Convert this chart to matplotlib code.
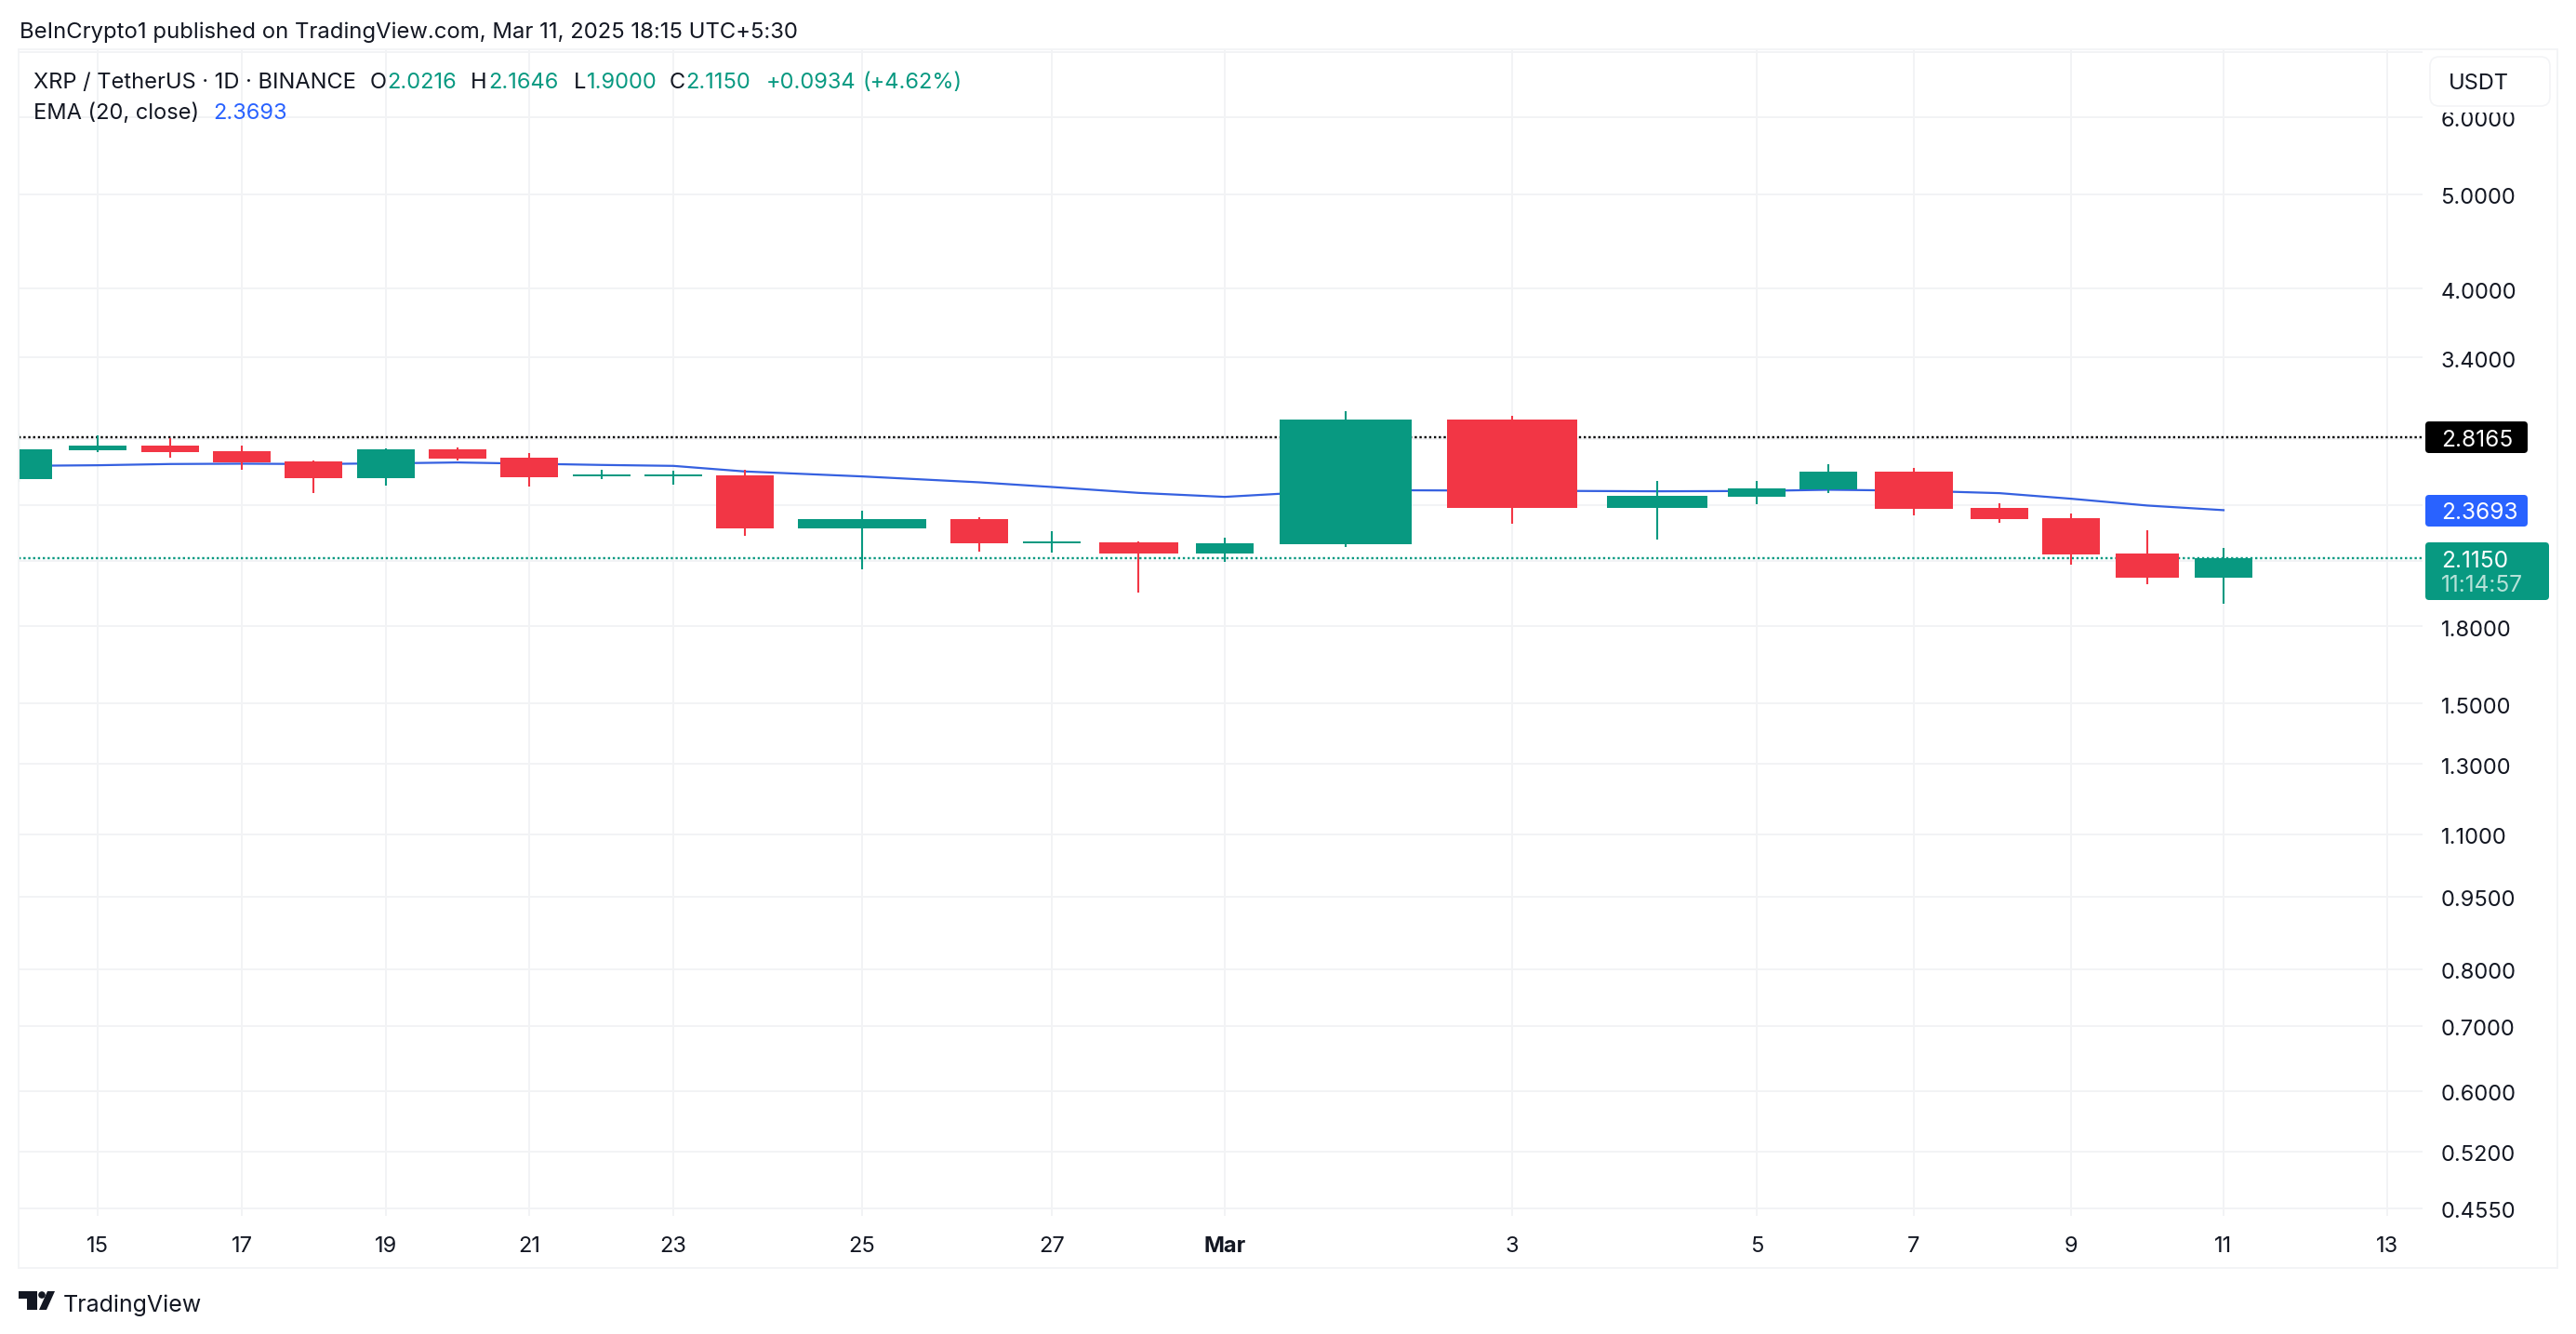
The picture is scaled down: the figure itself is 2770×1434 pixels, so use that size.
import matplotlib
matplotlib.use("Agg")
import matplotlib.pyplot as plt
from matplotlib.patches import Circle, FancyBboxPatch, Polygon, Rectangle
from matplotlib.transforms import ScaledTranslation
import numpy as np

# Daily candles, Feb 14 to Mar 11
opens = [2.5510, 2.7311, 2.7613, 2.7251, 2.6599, 2.5567, 2.7371, 2.6834, 2.5679,
         2.5679, 2.5736, 2.2704, 2.3208, 2.1918, 2.1967, 2.1393, 2.1870, 2.9367,
         2.3829, 2.4466, 2.4900, 2.5963, 2.3829, 2.3259, 2.1393, 2.0216]
highs = [2.8372, 2.8268, 2.8062, 2.7613, 2.6658, 2.7431, 2.7492, 2.7131, 2.6078,
         2.6021, 2.6078, 2.3672, 2.3310, 2.2553, 2.2015, 2.2210, 2.9950, 2.9626,
         2.5398, 2.5398, 2.6424, 2.6193, 2.4092, 2.3516, 2.2603, 2.1646]
lows = [2.5305, 2.7151, 2.6834, 2.6078, 2.4682, 2.5120, 2.6658, 2.5065, 2.5510,
        2.5176, 2.2307, 2.0608, 2.1489, 2.1442, 1.9507, 2.0975, 2.1726, 2.2955,
        2.2112, 2.4039, 2.4682, 2.3413, 2.3005, 2.0837, 1.9896, 1.9000]
closes = [2.7371, 2.7613, 2.7191, 2.6541, 2.5567, 2.7371, 2.6775, 2.5623, 2.5793,
          2.5793, 2.2704, 2.3208, 2.1918, 2.2015, 2.1393, 2.1918, 2.9367, 2.3829,
          2.4520, 2.4955, 2.5963, 2.3776, 2.3208, 2.1348, 2.0216, 2.1150]
ema = [2.6308, 2.6347, 2.6424, 2.6444, 2.6424, 2.6464, 2.6522, 2.6444, 2.6366,
       2.6308, 2.5963, 2.5661, 2.5305, 2.5027, 2.4682, 2.4449, 2.4846, 2.4809,
       2.4774, 2.4791, 2.4864, 2.4809, 2.4665, 2.4342, 2.3953, 2.3693]

x_tick_days = [1, 3, 5, 7, 9, 11, 13, 15, 17, 19, 21, 23, 25, 27]
x_tick_labels = ["15", "17", "19", "21", "23", "25", "27", "Mar", "3", "5", "7", "9", "11", "13"]
y_ticks = [7.0, 6.0, 5.0, 4.0, 3.4, 2.8, 2.4, 2.1, 1.8, 1.5, 1.3, 1.1, 0.95, 0.8, 0.7, 0.6, 0.52, 0.455]
y_tick_labels = ["", "6.0000", "5.0000", "4.0000", "3.4000", "", "", "", "1.8000", "1.5000",
                 "1.3000", "1.1000", "0.9500", "0.8000", "0.7000", "0.6000", "0.5200", "0.4550"]
high_line = 2.8165
last_close = 2.1150
ema_last = 2.3693

# The picture has uneven day spacing and candle widths, so the x scale is warped (pixels)
day_px = [20, 105, 183, 260, 337, 415, 492, 569, 647, 724, 801, 927, 1053, 1131, 1224, 1317,
          1447, 1626, 1782, 1889, 1966, 2058, 2150, 2227, 2309, 2391]
body_px = [72, 62, 62, 62, 62, 62, 62, 62, 62, 62, 62, 138, 62, 62, 85, 62, 143, 140, 108, 62, 62, 84, 62, 62, 68, 62]

W, H = 2770, 1434
GREEN = "#089981"
RED = "#F23645"
BLUE = "#2962FF"
GRID = "#F2F3F5"
TEXT = "#131722"

plt.rcParams["font.family"] = ["Inter", "DejaVu Sans"]

knot_days = np.array([-20.0] + list(range(26)) + [27.0, 50.0])
knot_px = np.array([-3000.0] + day_px + [2567.0, 6000.0])


def to_px(d):
    return np.interp(d, knot_days, knot_px)


def to_day(p):
    return np.interp(p, knot_px, knot_days)


fig = plt.figure(figsize=(W / 100, H / 100), dpi=100, facecolor="white")
# price pane: x 20-2605, y 53-1307 in picture pixels
ax = fig.add_axes([20 / W, 1 - 1307 / H, (2605 - 20) / W, (1307 - 53) / H])
ax.set_xscale("function", functions=(to_px, to_day))
ax.set_yscale("log")
ax.set_xlim(0, to_day(2605))
K = (1298.5 - 126) / np.log(6 / 0.455)
ax.set_ylim(0.455 * np.exp(-(1307 - 1298.5) / K), 6 * np.exp((126 - 53) / K))

for s in ax.spines.values():
    s.set_visible(False)
ax.set_axisbelow(True)
ax.grid(True, color=GRID, lw=1.4)
ax.yaxis.tick_right()
ax.set_yticks(y_ticks, y_tick_labels)
ax.set_xticks(x_tick_days, x_tick_labels)
ax.minorticks_off()
ax.tick_params(axis="y", length=0, pad=14, labelsize=17, labelcolor=TEXT)
ax.tick_params(axis="x", length=0, pad=16, labelsize=17, labelcolor=TEXT)
ax.get_xticklabels()[7].set_fontweight("bold")
# price labels sit a little lower than matplotlib centres them
nudge = ScaledTranslation(0, -1.8 / 100, fig.dpi_scale_trans)
for lab in ax.get_yticklabels():
    lab.set_transform(lab.get_transform() + nudge)

# reference lines and EMA sit under the candles
ax.axhline(high_line, color="black", lw=1.7, ls=(0, (1, 1.2)), zorder=1.5)
ax.axhline(last_close, color=GREEN, lw=1.7, ls=(0, (1, 1.2)), zorder=1.5)
ax.plot(range(len(ema)), ema, color="#3560E0", lw=1.6, zorder=2)

for i in range(len(opens)):
    col = GREEN if closes[i] >= opens[i] else RED
    lo, hi = sorted([opens[i], closes[i]])
    left = to_day(day_px[i] - body_px[i] / 2)
    right = to_day(day_px[i] + body_px[i] / 2)
    ax.vlines(i, lows[i], highs[i], color=col, lw=1.5, zorder=3)
    ax.bar(left, hi - lo, width=right - left, bottom=lo, align="edge", color=col, lw=0, zorder=4)

# everything around the pane is placed in picture pixels
ov = fig.add_axes([0, 0, 1, 1], facecolor="none")
ov.set_xlim(0, W)
ov.set_ylim(H, 0)
ov.axis("off")

ov.add_patch(Rectangle((20, 53), 2730, 1310, fc="none", ec="#F3F4F6", lw=1.4))

ov.text(21, 35, "BeInCrypto1 published on TradingView.com, Mar 11, 2025 18:15 UTC+5:30",
        fontsize=17.2, color=TEXT, va="center")
ov.text(36, 89, "XRP / TetherUS · 1D · BINANCE", fontsize=17, color=TEXT, va="center")
for x, s, c in [(398, "O", TEXT), (416, "2.0216", GREEN), (506, "H", TEXT), (525, "2.1646", GREEN),
                (617, "L", TEXT), (631, "1.9000", GREEN), (720, "C", TEXT), (737, "2.1150", GREEN),
                (824, "+0.0934", GREEN), (927, "(+4.62%)", GREEN)]:
    ov.text(x, 89, s, fontsize=17, color=c, va="center")
ov.text(36, 122, "EMA (20, close)", fontsize=17, color=TEXT, va="center")
ov.text(229, 122, "2.3693", fontsize=17, color=BLUE, va="center")

# USDT button, it also cuts off the top of the 6.0000 label
ov.add_patch(Rectangle((2609, 56), 138, 65, fc="white", ec="none"))
ov.add_patch(FancyBboxPatch((2621, 69), 113, 37, boxstyle="round,pad=8,rounding_size=10",
                            fc="white", ec="#F3F4F6", lw=1.2))
ov.text(2633, 90, "USDT", fontsize=17, color=TEXT, va="center")


def price_tag(y0, y1, x1, col):
    ov.add_patch(FancyBboxPatch((2608, y0), x1 - 2608, y1 - y0, boxstyle="round,pad=0,rounding_size=4",
                                fc=col, ec="none"))


price_tag(453, 487, 2718, "black")
ov.text(2625, 473, "2.8165", fontsize=17.6, color="white", va="center")
price_tag(532, 566, 2718, BLUE)
ov.text(2625, 552, "2.3693", fontsize=17.6, color="white", va="center")
price_tag(583, 645, 2741, GREEN)
ov.text(2625, 603, "2.1150", fontsize=17.6, color="white", va="center")
ov.text(2625, 630, "11:14:57", fontsize=17.6, color="#B5E2D8", va="center")

# logo
ov.add_patch(Polygon([(20, 1388), (40, 1388), (40, 1408), (29, 1408), (29, 1396), (20, 1396)], fc=TEXT, ec="none"))
ov.add_patch(Circle((45, 1392), 3.8, fc=TEXT, ec="none"))
ov.add_patch(Polygon([(51, 1388), (59, 1388), (50, 1408), (42, 1408)], fc=TEXT, ec="none"))
ov.text(68, 1403, "TradingView", fontsize=18, color=TEXT, va="center")

fig.savefig("out.png", dpi=100)
